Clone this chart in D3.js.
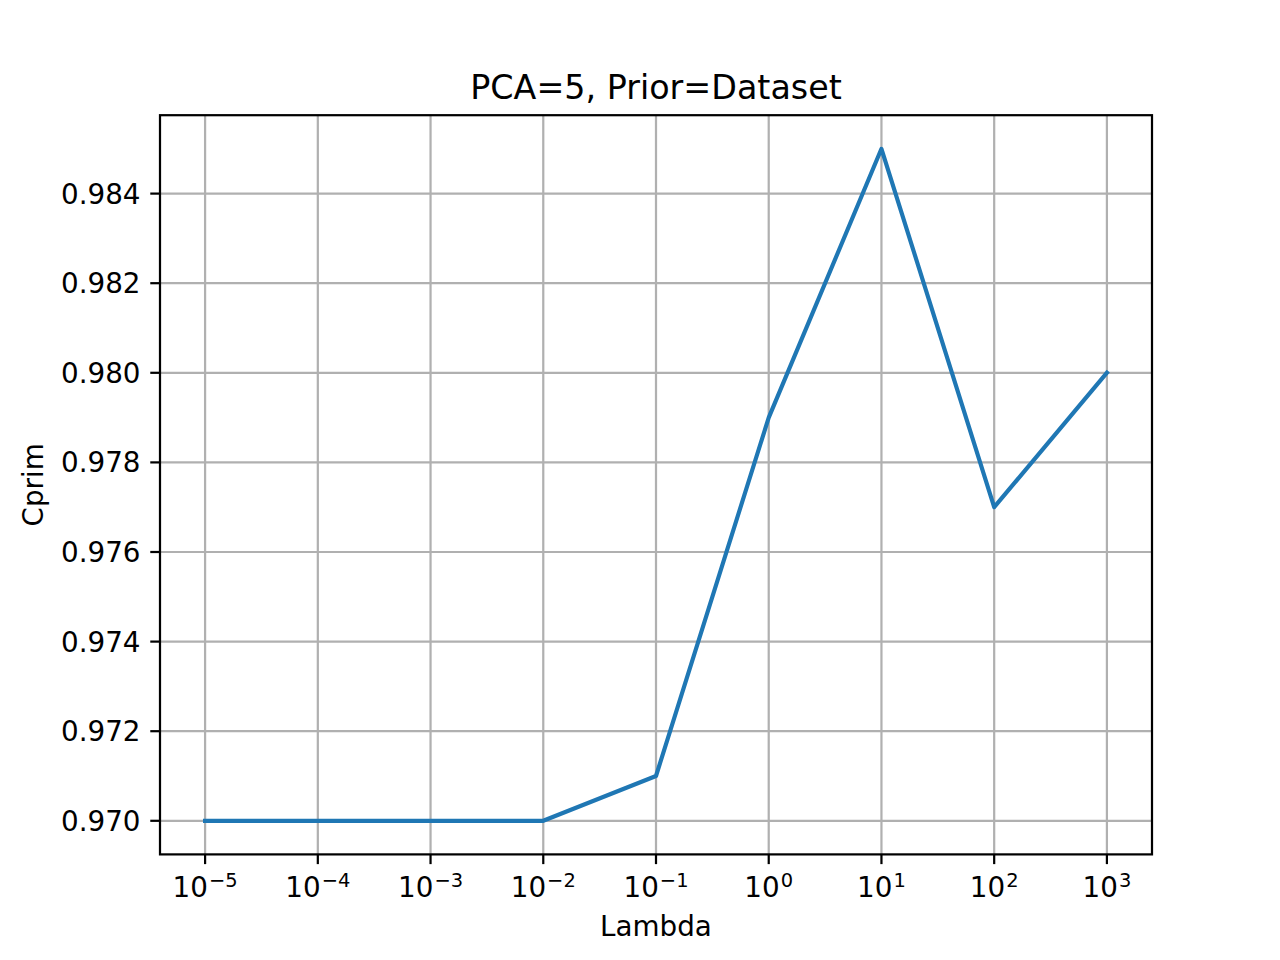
<!DOCTYPE html>
<html>
<head>
<meta charset="utf-8">
<script src="https://cdn.jsdelivr.net/npm/d3@7"></script>
<style>
  html, body { margin: 0; padding: 0; background: #fff; }
  svg { display: block; font-family: "DejaVu Sans", sans-serif; }
</style>
</head>
<body>
<svg id="chart" width="1280" height="960"></svg>
<script>
// ---- Data ----
const lambdaExponents = [-5, -4, -3, -2, -1, 0, 1, 2, 3];
const cprimValues = [0.970, 0.970, 0.970, 0.970, 0.971, 0.979, 0.985, 0.977, 0.980];
const yTickValues = [0.970, 0.972, 0.974, 0.976, 0.978, 0.980, 0.982, 0.984];
const titleText = "PCA=5, Prior=Dataset";
const xLabelText = "Lambda";
const yLabelText = "Cprim";

(function () {
// ---- Layout ----
const plotL = 160, plotR = 1152, plotT = 115.2, plotB = 854.4;
const dpiScale = 200 / 72;
const tickFont = 10 * dpiScale;      // 27.8px
const titleFont = 12 * dpiScale;     // 33.3px
const lw = 0.8 * dpiScale;           // 2.22px
const tickLen = 3.5 * dpiScale;
const tickPad = 3.5 * dpiScale;

const svg = d3.select("#chart");

const lambdas = lambdaExponents.map(e => Math.pow(10, e));
const data = lambdas.map((l, i) => ({ x: l, y: cprimValues[i] }));

// matplotlib margins 5%
const lxMin = d3.min(lambdaExponents), lxMax = d3.max(lambdaExponents);
const xm = (lxMax - lxMin) * 0.05;
const x = d3.scaleLog()
  .domain([Math.pow(10, lxMin - xm), Math.pow(10, lxMax + xm)])
  .range([plotL, plotR]);

const yMin = d3.min(cprimValues), yMax = d3.max(cprimValues);
const ym = (yMax - yMin) * 0.05;
const y = d3.scaleLinear()
  .domain([yMin - ym, yMax + ym])
  .range([plotB, plotT]);

// ---- Grid ----
const grid = svg.append("g");
grid.selectAll("line.vx").data(lambdas).enter().append("line")
  .attr("x1", d => x(d)).attr("x2", d => x(d))
  .attr("y1", plotT).attr("y2", plotB)
  .attr("stroke", "#b0b0b0").attr("stroke-width", lw);
grid.selectAll("line.hy").data(yTickValues).enter().append("line")
  .attr("x1", plotL).attr("x2", plotR)
  .attr("y1", d => y(d)).attr("y2", d => y(d))
  .attr("stroke", "#b0b0b0").attr("stroke-width", lw);

// ---- Line ----
svg.append("path")
  .datum(data)
  .attr("fill", "none")
  .attr("stroke", "#1f77b4")
  .attr("stroke-width", 1.5 * dpiScale)
  .attr("stroke-linejoin", "round")
  .attr("stroke-linecap", "square")
  .attr("d", d3.line().x(d => x(d.x)).y(d => y(d.y)));

// ---- Spines ----
svg.append("rect")
  .attr("x", plotL).attr("y", plotT)
  .attr("width", plotR - plotL).attr("height", plotB - plotT)
  .attr("fill", "none").attr("stroke", "#000").attr("stroke-width", lw);

// ---- X axis ticks and labels ----
const xt = svg.append("g");
xt.selectAll("line").data(lambdas).enter().append("line")
  .attr("x1", d => x(d)).attr("x2", d => x(d))
  .attr("y1", plotB).attr("y2", plotB + tickLen)
  .attr("stroke", "#000").attr("stroke-width", lw);
const xLabels = xt.selectAll("text").data(lambdaExponents).enter().append("text")
  .attr("x", (d, i) => x(lambdas[i]))
  .attr("y", 897)
  .attr("text-anchor", "middle")
  .attr("font-size", tickFont)
  .attr("fill", "#000");
xLabels.append("tspan").text("10");
xLabels.append("tspan")
  .attr("dy", -10.5)
  .attr("dx", 1)
  .attr("font-size", tickFont * 0.7)
  .text(d => (d < 0 ? "\u2212" : "") + Math.abs(d));

// ---- Y axis ticks and labels ----
const yt = svg.append("g");
yt.selectAll("line").data(yTickValues).enter().append("line")
  .attr("x1", plotL - tickLen).attr("x2", plotL)
  .attr("y1", d => y(d)).attr("y2", d => y(d))
  .attr("stroke", "#000").attr("stroke-width", lw);
yt.selectAll("text").data(yTickValues).enter().append("text")
  .attr("x", plotL - tickLen - tickPad)
  .attr("y", d => y(d) + 10)
  .attr("text-anchor", "end")
  .attr("font-size", tickFont)
  .attr("fill", "#000")
  .text(d => d3.format(".3f")(d));

// ---- Title and axis labels ----
svg.append("text")
  .attr("x", (plotL + plotR) / 2).attr("y", 98.5)
  .attr("text-anchor", "middle")
  .attr("font-size", titleFont)
  .attr("fill", "#000")
  .text(titleText);

svg.append("text")
  .attr("x", (plotL + plotR) / 2).attr("y", 936)
  .attr("text-anchor", "middle")
  .attr("font-size", tickFont)
  .attr("fill", "#000")
  .text(xLabelText);

svg.append("text")
  .attr("transform", `translate(43.3, ${(plotT + plotB) / 2}) rotate(-90)`)
  .attr("text-anchor", "middle")
  .attr("font-size", tickFont)
  .attr("fill", "#000")
  .text(yLabelText);
})();
</script>
</body>
</html>
